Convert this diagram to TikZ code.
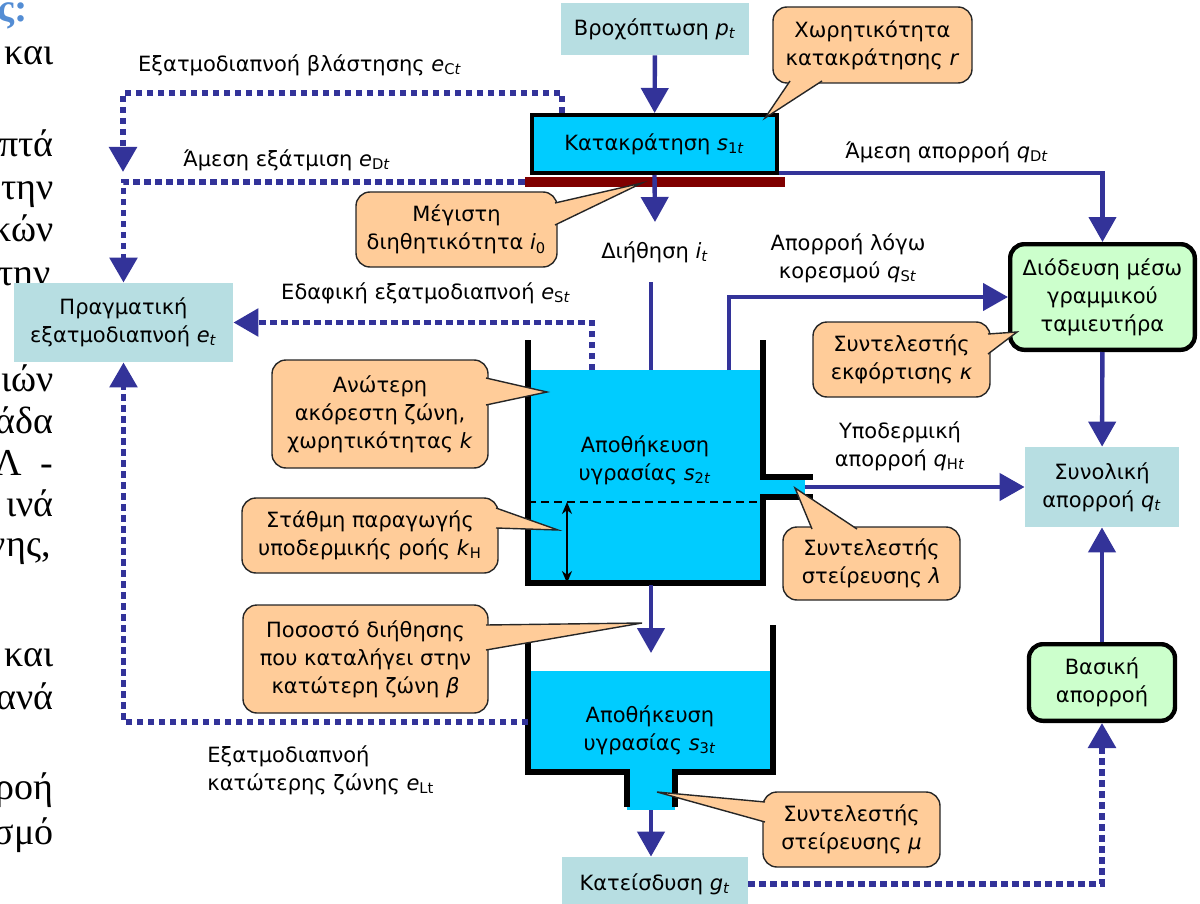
\documentclass[tikz,border=0pt]{standalone}
\usepackage{fontspec}
\setmainfont{DejaVu Sans}
\newfontfamily\slidefont{Liberation Serif}
\usetikzlibrary{arrows.meta}
\definecolor{flowblue}{RGB}{51,51,153}
\definecolor{boxteal}{RGB}{183,222,226}
\definecolor{water}{RGB}{0,204,255}
\definecolor{callfill}{RGB}{255,204,153}
\definecolor{boxgreen}{RGB}{204,255,204}
\definecolor{barred}{RGB}{128,0,0}
\definecolor{titleblue}{RGB}{84,141,212}
\newcommand\pointer[3]{\fill[callfill] (#1) -- (#2) -- (#3) -- cycle;\draw[callline] (#1) -- (#2) -- (#3);}
\begin{document}
\begin{tikzpicture}[x=0.5pt,y=-0.5pt,
  every node/.style={font=\fontsize{10.5}{14}\selectfont,align=center,inner sep=0pt},
  flow/.style={draw=flowblue,line width=2.2pt,-{Triangle[width=13.5pt,length=12.5pt]}},
  flowline/.style={draw=flowblue,line width=2.2pt},
  evap/.style={draw=flowblue,line width=2.8pt,dash pattern=on 3.2pt off 2.3pt,-{Triangle[width=13.5pt,length=12.5pt]}},
  tealbox/.style={fill=boxteal},
  greenbox/.style={draw,fill=boxgreen,line width=2.2pt,rounded corners=7pt},
  tank/.style={line width=2.6pt},
  callbox/.style={draw=black!85,fill=callfill,line width=0.7pt,rounded corners=7pt},
  callline/.style={draw=black!85,line width=0.7pt},
  slide/.style={font=\slidefont\fontsize{19}{22}\selectfont,anchor=base east}]
\useasboundingbox (0,0) rectangle (1200,904);
\clip (0,0) rectangle (1200,904);
\node[slide,text=titleblue,font=\slidefont\bfseries\fontsize{20}{22}\selectfont] (w0) at (28,22) {ς:};
\node[slide] (w1) at (54,65) {και};
\node[slide] (w2) at (54,156) {πτά};
\node[slide] (w3) at (54,199) {την};
\node[slide] (w4) at (54,242) {κών};
\node[slide] (w5) at (51,285) {την};
\node[slide] (w6) at (54,391) {ιών};
\node[slide] (w7) at (54,433) {άδα};
\node[slide] (w8) at (54,475) {Λ\ \ -};
\node[slide] (w9) at (54,516) {ινά};
\node[slide] (w10) at (51,556) {νης,};
\node[slide] (w11) at (54,666) {και};
\node[slide] (w12) at (54,709) {ανά};
\node[slide] (w13) at (54,799) {ροή};
\node[slide] (w14) at (54,844) {σμό};

\fill[water] (528,370) rectangle (763,583);
\fill[water] (763,477) rectangle (805,497);
\draw[dashed,line width=0.7pt,dash pattern=on 4pt off 2.5pt] (528,502) -- (763,502);
\draw[{Stealth[length=6pt,width=5pt]}-{Stealth[length=6pt,width=5pt]},line width=1pt] (567,502) -- (567,583);
\draw[tank] (528,340) -- (528,583) -- (763,583) -- (763,497) -- (813,497);
\draw[tank] (763,340) -- (763,477) -- (813,477);
\fill[water] (528,671) rectangle (773,772);
\fill[water] (627,772) rectangle (675,810);
\draw[tank] (528,625) -- (528,772) -- (627,772) -- (627,807);
\draw[tank] (773,625) -- (773,772) -- (675,772) -- (675,807);

\node[fill=barred,minimum width=130pt,minimum height=5pt] (bar) at (655,182) {};
\node[tealbox,minimum width=94pt,minimum height=26pt] (rain) at (655,29) {Βροχόπτωση \textit{p}\textsubscript{\textit{t}}};
\node[draw,fill=water,line width=2pt,minimum width=122.5pt,minimum height=29pt] (ret) at (654.5,144) {Κατακράτηση \textit{s}\textsubscript{1\textit{t}}};
\node[tealbox,minimum width=109.5pt,minimum height=39.5pt] (actual) at (123.5,322.5) {Πραγματική\\εξατμοδιαπνοή \textit{e}\textsubscript{\textit{t}}};
\node[greenbox,minimum width=92.3pt,minimum height=52.8pt] (rout) at (1102.5,297) {Διόδευση μέσω\\γραμμικού\\ταμιευτήρα};
\node[tealbox,minimum width=77pt,minimum height=40pt] (total) at (1102,487) {Συνολική\\απορροή \textit{q}\textsubscript{\textit{t}}};
\node[greenbox,minimum width=73pt,minimum height=38.3pt] (base) at (1102,682.5) {Βασική\\απορροή};
\node[tealbox,minimum width=93pt,minimum height=27pt] (gw) at (655,884) {Κατείσδυση \textit{g}\textsubscript{\textit{t}}};

\node (lct) at (300,65) {Εξατμοδιαπνοή βλάστησης \textit{e}\textsubscript{C\textit{t}}};
\node (ldt) at (287,160) {Άμεση εξάτμιση \textit{e}\textsubscript{D\textit{t}}};
\node (linf) at (655,252) {Διήθηση \textit{i}\textsubscript{\textit{t}}};
\node (lqd) at (947,152) {Άμεση απορροή \textit{q}\textsubscript{D\textit{t}}};
\node (lqs) at (848,258) {Απορροή λόγω\\κορεσμού \textit{q}\textsubscript{S\textit{t}}};
\node (lst) at (426,293) {Εδαφική εξατμοδιαπνοή \textit{e}\textsubscript{S\textit{t}}};
\node (lqh) at (900,446) {Υποδερμική\\απορροή \textit{q}\textsubscript{H\textit{t}}};
\node[anchor=west,align=left] (llt) at (207,770) {Εξατμοδιαπνοή\\κατώτερης ζώνης \textit{e}\textsubscript{Lt}};
\node (ls2) at (645,460) {Αποθήκευση\\υγρασίας \textit{s}\textsubscript{2\textit{t}}};
\node (ls3) at (650,730) {Αποθήκευση\\υγρασίας \textit{s}\textsubscript{3\textit{t}}};

\coordinate (retc) at (562,113);
\coordinate (ectc) at (123,93);
\coordinate (ect) at (123,172);
\coordinate (inftip) at (655,222);
\coordinate (inftop) at (651,282);
\coordinate (t2top) at (651,370);
\coordinate (satst) at (729,370);
\coordinate (estst) at (592,370);
\coordinate (hypo) at (805,487);
\coordinate (t2bot) at (651,585);
\coordinate (t3in) at (651,653);
\coordinate (t3out) at (651,810);
\coordinate (eltst) at (528,722);

\draw[flow] (rain) -- (ret);
\draw[flow] (ret.south) -- (inftip);
\draw[flowline] (inftop) -- (t2top);
\draw[flow] ([yshift=1pt]ret.south east) -| (rout);
\draw[flow] (satst) |- (rout);
\draw[flow] (hypo) -- (total);
\draw[flow] (rout) -- (total);
\draw[flow] (base) -- (total);
\draw[flow] (t2bot) -- (t3in);
\draw[flow] (t3out) -- (t3out |- gw.north);
\draw[evap] (retc) |- (ectc) -- (ect);
\draw[evap] (bar.west) -| (actual);
\draw[evap] (estst) |- (actual);
\draw[evap] (eltst) -| (actual);
\draw[evap] (gw) -| (base);

\node[callbox,minimum width=99.5pt,minimum height=38pt] (cr) at (872.5,45) {Χωρητικότητα\\κατακράτησης \textit{r}};
\pointer{790,81}{765,118}{822,81}
\node[callbox,minimum width=100.5pt,minimum height=37.5pt] (ci) at (456.5,229.5) {Μέγιστη\\διηθητικότητα \textit{i}\textsubscript{0}};
\pointer{555,203}{642,183}{555,225}
\node[callbox,minimum width=88.5pt,minimum height=37.5pt] (ck) at (901.5,359.5) {Συντελεστής\\εκφόρτισης \textit{κ}};
\pointer{988,334}{1017,332}{988,354}
\node[callbox,minimum width=108pt,minimum height=54pt] (cs) at (380,414) {Ανώτερη\\ακόρεστη ζώνη,\\χωρητικότητας \textit{k}};
\pointer{486,378}{547,392}{486,405}
\node[callbox,minimum width=128pt,minimum height=37.5pt] (ch) at (370,535.5) {Στάθμη παραγωγής\\υποδερμικής ροής \textit{k}\textsubscript{H}};
\pointer{496,508}{558,530}{496,528}
\node[callbox,minimum width=122.5pt,minimum height=54pt] (cb) at (365.5,659) {Ποσοστό διήθησης\\που καταλήγει στην\\κατώτερη ζώνη \textit{β}};
\pointer{486,625}{642,623}{486,650}
\node[callbox,minimum width=88.5pt,minimum height=36.5pt] (cl) at (871.5,563.5) {Συντελεστής\\στείρευσης \textit{λ}};
\pointer{812,529}{795,488}{857,529}
\node[callbox,minimum width=88.5pt,minimum height=37.5pt] (cm) at (851.5,829.5) {Συντελεστής\\στείρευσης \textit{μ}};
\pointer{765,802}{657,792}{765,822}
\end{tikzpicture}
\end{document}
